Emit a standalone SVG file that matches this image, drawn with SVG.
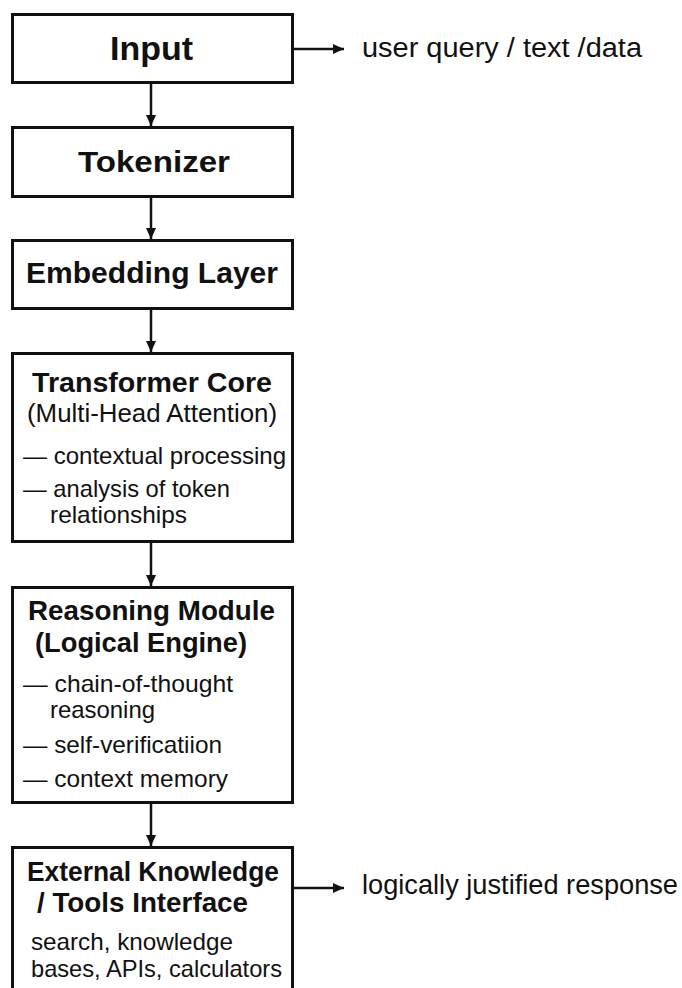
<svg xmlns="http://www.w3.org/2000/svg" width="682" height="988" viewBox="0 0 682 988">
<style>
.box{fill:#fff;stroke:#111;stroke-width:3}
.t{font-family:"Liberation Sans",Arial,sans-serif;fill:#111}
.b{font-weight:bold}
.r{font-size:24px}
.lbl{font-size:27px}
.con{stroke:#111;stroke-width:2.5;fill:none}
</style>
<defs>
<marker id="ah" markerUnits="userSpaceOnUse" markerWidth="12" markerHeight="10" refX="11" refY="5" orient="auto">
<path d="M0,0 L11,5 L0,10 z" fill="#111"/>
</marker>
</defs>
<rect width="682" height="988" fill="#fff"/>
<g id="connectors">
<line class="con" x1="151" y1="83" x2="151" y2="126" marker-end="url(#ah)"/>
<line class="con" x1="151" y1="197" x2="151" y2="239" marker-end="url(#ah)"/>
<line class="con" x1="151" y1="309" x2="151" y2="352" marker-end="url(#ah)"/>
<line class="con" x1="151" y1="542" x2="151" y2="586" marker-end="url(#ah)"/>
<line class="con" x1="151" y1="803" x2="151" y2="846" marker-end="url(#ah)"/>
<line class="con" x1="293" y1="49" x2="344" y2="49" marker-end="url(#ah)"/>
<line class="con" x1="293" y1="888" x2="344" y2="888" marker-end="url(#ah)"/>
</g>
<g id="input">
<rect class="box" x="12.5" y="14.5" width="280" height="68"/>
<text class="t b" x="110" y="60" font-size="33" textLength="83" lengthAdjust="spacingAndGlyphs">Input</text>
</g>
<g id="input-label">
<text class="t lbl" x="362" y="57" font-size="28" textLength="280" lengthAdjust="spacingAndGlyphs">user query / text /data</text>
</g>
<g id="tokenizer">
<rect class="box" x="12.5" y="127.5" width="280" height="69"/>
<text class="t b" x="78" y="172" font-size="30" textLength="152" lengthAdjust="spacingAndGlyphs">Tokenizer</text>
</g>
<g id="embedding">
<rect class="box" x="12.5" y="240.5" width="280" height="68"/>
<text class="t b" x="26" y="283" font-size="29" textLength="252" lengthAdjust="spacingAndGlyphs">Embedding Layer</text>
</g>
<g id="transformer">
<rect class="box" x="12.5" y="353.5" width="280" height="188"/>
<text class="t b" x="32" y="392" font-size="28" textLength="240" lengthAdjust="spacingAndGlyphs">Transformer Core</text>
<text class="t" x="27" y="422" font-size="25" textLength="250" lengthAdjust="spacingAndGlyphs">(Multi-Head Attention)</text>
<text class="t r" x="23" y="464" textLength="263" lengthAdjust="spacingAndGlyphs">— contextual processing</text>
<text class="t r" x="23" y="497" textLength="207" lengthAdjust="spacingAndGlyphs">— analysis of token</text>
<text class="t r" x="50" y="523" textLength="137" lengthAdjust="spacingAndGlyphs">relationships</text>
</g>
<g id="reasoning">
<rect class="box" x="12.5" y="587.5" width="280" height="215"/>
<text class="t b" x="28" y="620" font-size="28" textLength="247" lengthAdjust="spacingAndGlyphs">Reasoning Module</text>
<text class="t b" x="35" y="652" font-size="28" textLength="212" lengthAdjust="spacingAndGlyphs">(Logical Engine)</text>
<text class="t r" x="23" y="692" textLength="210" lengthAdjust="spacingAndGlyphs">— chain-of-thought</text>
<text class="t r" x="50" y="718" textLength="105" lengthAdjust="spacingAndGlyphs">reasoning</text>
<text class="t r" x="23" y="753" textLength="199" lengthAdjust="spacingAndGlyphs">— self-verificatiion</text>
<text class="t r" x="23" y="787" textLength="205" lengthAdjust="spacingAndGlyphs">— context memory</text>
</g>
<g id="external">
<rect class="box" x="12.5" y="847.5" width="280" height="160"/>
<text class="t b" x="27" y="881" font-size="27" textLength="252" lengthAdjust="spacingAndGlyphs">External Knowledge</text>
<text class="t b" x="37" y="912" font-size="27" textLength="211" lengthAdjust="spacingAndGlyphs">/ Tools Interface</text>
<text class="t r" x="31" y="950" textLength="202" lengthAdjust="spacingAndGlyphs">search, knowledge</text>
<text class="t r" x="31" y="977" textLength="251" lengthAdjust="spacingAndGlyphs">bases, APIs, calculators</text>
</g>
<g id="output-label">
<text class="t lbl" x="362" y="894" textLength="316" lengthAdjust="spacingAndGlyphs">logically justified response</text>
</g>
</svg>
